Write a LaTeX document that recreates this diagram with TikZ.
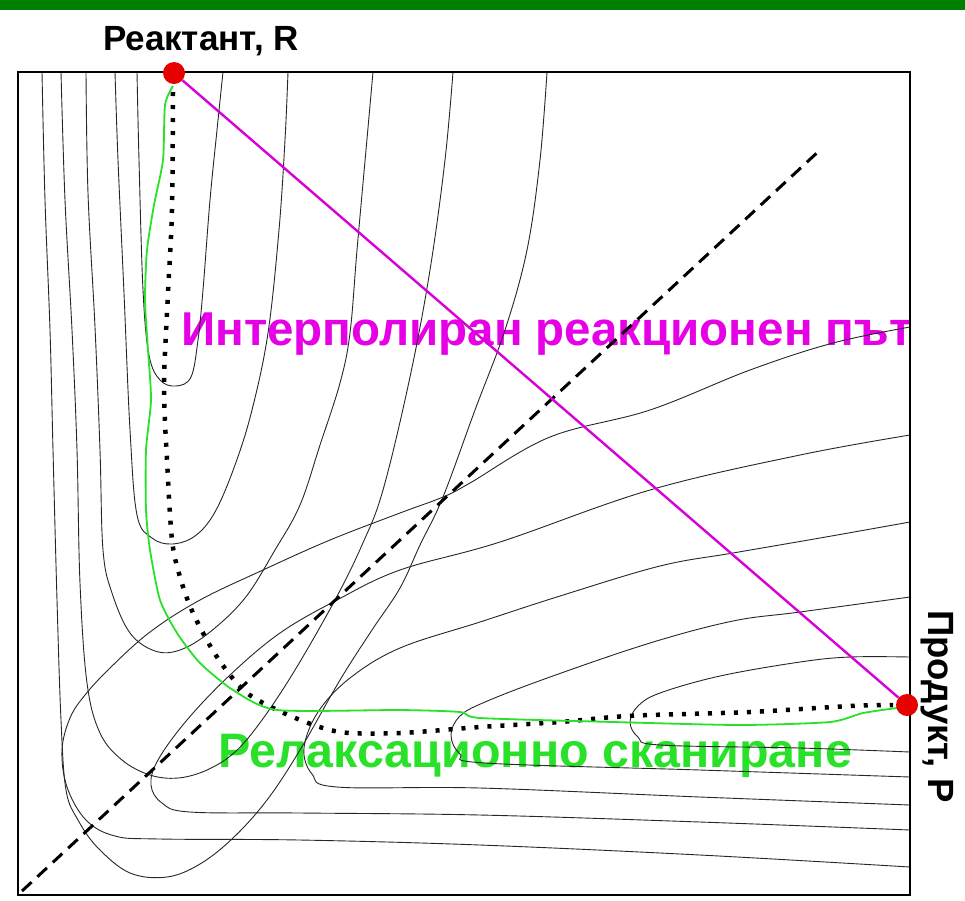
\documentclass[tikz,border=0pt]{standalone}
\usepackage{fontspec}
\setmainfont{Liberation Sans}
\usetikzlibrary{positioning}

\definecolor{bargreen}{RGB}{0,128,0}
\definecolor{scangreen}{RGB}{40,225,40}
\definecolor{interp}{RGB}{215,0,215}
\definecolor{interptext}{RGB}{230,0,230}
\definecolor{statered}{RGB}{230,0,0}

\begin{document}
\begin{tikzpicture}[x=1pt,y=-1pt]

\tikzset{
  frm/.style   = {line width=2.6pt, line join=miter},
  cnt/.style   = {line width=0.9pt, draw=black!85},
  seam/.style  = {line width=3pt, dash pattern=on 13pt off 8pt},
  dotpath/.style = {line width=4.5pt, dash pattern=on 4pt off 9pt},
  scan/.style  = {line width=1.8pt, draw=scangreen, line join=round},
  ipath/.style = {line width=2.4pt, draw=interp},
  state/.style = {circle, fill=statered, minimum size=22pt, inner sep=0pt},
  lbl/.style   = {font=\bfseries\fontsize{35}{40}\selectfont, inner sep=0pt},
  biglbl/.style= {font=\bfseries\fontsize{47.5}{55}\selectfont, inner sep=0pt},
}

\useasboundingbox (0,0) rectangle (965,900);
\fill[bargreen] (0,0) rectangle (965,10);

\node[lbl, anchor=base] (rlab) at (201,50) {Реактант, R};
\node[lbl, anchor=base west, rotate=-90, font=\bfseries\fontsize{36.5}{40}\selectfont] (plab) at (928,610) {Продукт, P};
\node[biglbl, text=interptext, anchor=base west] (ilab) at (181,345) {Интерполиран реакционен път};
\node[biglbl, text=scangreen, anchor=base west, font=\bfseries\fontsize{48.4}{55}\selectfont] (slab) at (218,767) {Релаксационно сканиране};

\draw[cnt] plot[smooth, tension=0.6] coordinates {(137,72) (139,160) (143,290) (149,355) (160,380) (176,386) (191,377) (198,340) (203,290) (210,200) (217,130) (223,72)};
\draw[cnt] plot[smooth, tension=0.6] coordinates {(115,72) (118,160) (124,293) (130,430) (137,515) (152,538) (172,544) (195,536) (215,512) (235,465) (252,410) (268,333) (279,230) (285,140) (288,72)};
\draw[cnt] plot[smooth, tension=0.6] coordinates {(86,72) (88,193) (95,327) (100,450) (103,550) (112,593) (130,633) (155,651) (180,650) (210,632) (245,598) (275,550) (300,505) (320,445) (340,383) (350,333) (357,250) (366,150) (373,72)};
\draw[cnt] plot[smooth, tension=0.6] coordinates {(61,72) (65,200) (72,330) (77,450) (80,583) (87,683) (100,733) (122,760) (150,775) (178,778) (207,770) (235,752) (262,720) (295,670) (335,600) (362,545) (383,490) (410,377) (430,270) (445,160) (453,72)};
\draw[cnt] plot[smooth, tension=0.6] coordinates {(42,72) (45,200) (50,330) (53,450) (57,600) (61,720) (66,790) (78,820) (98,848) (130,873) (167,877) (200,864) (233,838) (267,800) (300,750) (340,680) (372,630) (400,588) (420,545) (443,497) (475,410) (505,330) (527,250) (540,160) (547,72)};

\draw[cnt] plot[smooth, tension=0.6] coordinates {(910,657) (850,657) (800,662) (720,676) (660,693) (638,706) (630,722) (638,737) (660,745) (800,748) (910,752)};
\draw[cnt] plot[smooth, tension=0.6] coordinates {(910,597) (800,612) (733,621) (650,643) (550,677) (485,702) (460,716) (451,735) (460,754) (485,763) (700,770) (910,777)};
\draw[cnt] plot[smooth, tension=0.6] coordinates {(910,522) (820,538) (733,553) (660,566) (560,596) (480,622) (400,648) (350,678) (318,712) (304,748) (312,774) (337,787) (480,788) (700,797) (910,805)};
\draw[cnt] plot[smooth, tension=0.6] coordinates {(910,435) (800,455) (650,490) (500,542) (400,570) (337,600) (280,633) (230,675) (187,720) (158,760) (151,785) (162,803) (190,812) (300,813) (480,815) (700,822) (910,830)};
\draw[cnt] plot[smooth, tension=0.6] coordinates {(910,327) (833,343) (750,370) (650,410) (550,437) (470,483) (443,497) (400,513) (330,540) (263,570) (200,600) (150,632) (110,668) (85,695) (70,718) (62,750) (67,787) (86,820) (115,836) (160,839) (300,840) (480,845) (700,855) (910,867)};

\coordinate (d0) at (22,891);
\coordinate (d1) at (820,150);
\draw[seam] (d0) -- (d1);

\draw[dotpath] plot[smooth, tension=0.5] coordinates {(173,92) (172,210) (168,293) (164,385) (167,460) (172,540) (180,577) (193,613) (217,657) (247,693) (293,717) (340,732) (400,733) (480,727) (560,722) (613,717) (650,715) (750,712) (850,706) (893,705)};

\draw[scan] plot[smooth, tension=0.4] coordinates {(173,86) (165,105) (163,160) (154,205) (147,250) (145,300) (148,350) (151,400) (146,450) (146,510) (150,550) (160,600) (177,633) (200,663) (233,690) (277,710) (400,710) (460,712) (480,718) (613,722) (740,725) (830,722) (863,713) (897,708)};

\draw[frm] (18,72) rectangle (910,895);

\node[state] (r) at (174,73) {};
\node[state] (p) at (907,705) {};
\draw[ipath] (r) -- (p);

\end{tikzpicture}
\end{document}
